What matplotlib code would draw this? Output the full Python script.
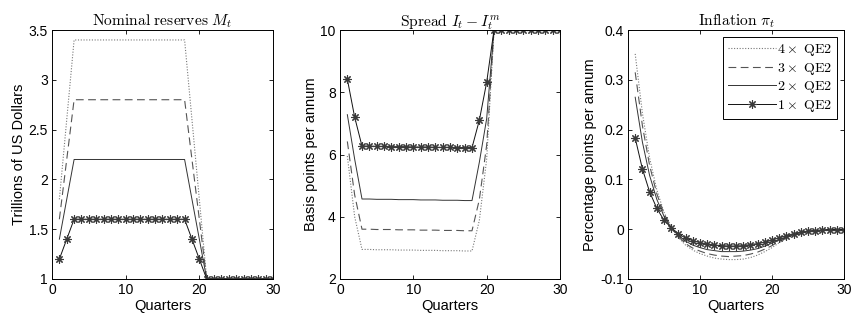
import matplotlib
matplotlib.use("Agg")
import matplotlib.pyplot as plt
from matplotlib.ticker import FuncFormatter

plt.rcParams['font.family'] = ['Liberation Sans', 'DejaVu Sans']
plt.rcParams['mathtext.fontset'] = 'cm'
plt.rcParams['axes.unicode_minus'] = False

quarters = list(range(1, 31))

# Nominal reserves (trillions of US dollars)
res_1x = [1.2, 1.4] + [1.6] * 16 + [1.4, 1.2] + [1.0] * 10
res_2x = [1.4, 1.8] + [2.2] * 16 + [1.8, 1.4] + [1.0] * 10
res_3x = [1.6, 2.2] + [2.8] * 16 + [2.2, 1.6] + [1.0] * 10
res_4x = [1.8, 2.6] + [3.4] * 16 + [2.6, 1.8] + [1.0] * 10

# Spread (basis points per annum)
spr_1x = [8.42, 7.20, 6.27, 6.27, 6.26, 6.26, 6.25, 6.25, 6.25, 6.24, 6.24, 6.24, 6.23, 6.23, 6.23, 6.22, 6.22, 6.22,
          7.10, 8.32] + [10.0] * 10
spr_2x = [7.28, 5.85, 4.57, 4.57, 4.56, 4.56, 4.56, 4.55, 4.55, 4.55, 4.54, 4.54, 4.54, 4.53, 4.53, 4.53, 4.52, 4.52,
          5.75, 7.15] + [10.0] * 10
spr_3x = [6.42, 4.70, 3.60, 3.60, 3.59, 3.59, 3.59, 3.58, 3.58, 3.58, 3.57, 3.57, 3.57, 3.56, 3.56, 3.56, 3.55, 3.55,
          4.55, 6.30] + [10.0] * 10
spr_4x = [5.95, 4.00, 2.95, 2.95, 2.94, 2.94, 2.94, 2.93, 2.93, 2.93, 2.92, 2.92, 2.92, 2.91, 2.91, 2.91, 2.90, 2.90,
          3.88, 5.85] + [10.0] * 10

# Inflation (percentage points per annum)
inf_1x = [0.183, 0.121, 0.075, 0.042, 0.018, 0.003, -0.009, -0.018, -0.023, -0.027, -0.030, -0.032, -0.033, -0.034,
          -0.034, -0.033, -0.031, -0.029, -0.026, -0.022, -0.017, -0.013, -0.009, -0.006, -0.004, -0.003, -0.002,
          -0.001, -0.001, -0.001]
inf_2x = [0.265, 0.175, 0.108, 0.060, 0.026, 0.003, -0.013, -0.024, -0.032, -0.037, -0.041, -0.043, -0.045, -0.045,
          -0.045, -0.044, -0.042, -0.039, -0.034, -0.028, -0.021, -0.015, -0.010, -0.007, -0.004, -0.003, -0.002,
          -0.001, -0.001, -0.001]
inf_3x = [0.315, 0.208, 0.128, 0.071, 0.031, 0.004, -0.015, -0.029, -0.038, -0.044, -0.049, -0.052, -0.054, -0.055,
          -0.054, -0.053, -0.050, -0.046, -0.040, -0.033, -0.024, -0.017, -0.011, -0.007, -0.004, -0.003, -0.002,
          -0.001, -0.001, -0.001]
inf_4x = [0.352, 0.233, 0.143, 0.079, 0.034, 0.005, -0.017, -0.032, -0.042, -0.049, -0.054, -0.058, -0.060, -0.061,
          -0.061, -0.060, -0.057, -0.052, -0.045, -0.037, -0.027, -0.019, -0.012, -0.008, -0.005, -0.003, -0.002,
          -0.001, -0.001, -0.001]

labels = [r"$4\times\ \mathrm{QE2}$", r"$3\times\ \mathrm{QE2}$", r"$2\times\ \mathrm{QE2}$", r"$1\times\ \mathrm{QE2}$"]

titles = [r"$\mathrm{Nominal\ reserves}\ M_t$", r"$\mathrm{Spread}\ I_t - I_t^m$", r"$\mathrm{Inflation}\ \pi_t$"]
ylabels = ["Trillions of US Dollars", "Basis points per annum", "Percentage points per annum"]
ylims = [(1, 3.5), (2, 10), (-0.1, 0.4)]
yticks = [[1, 1.5, 2, 2.5, 3, 3.5], [2, 4, 6, 8, 10], [-0.1, 0, 0.1, 0.2, 0.3, 0.4]]
data = [(res_4x, res_3x, res_2x, res_1x), (spr_4x, spr_3x, spr_2x, spr_1x), (inf_4x, inf_3x, inf_2x, inf_1x)]

fig = plt.figure(figsize=(8.53, 3.2), dpi=100)
boxes = [(52, 221), (340, 220), (628, 216)]
for i in range(3):
    l, w = boxes[i]
    ax = fig.add_axes([l / 853, 1 - 279 / 320, w / 853, 249 / 320])
    s4, s3, s2, s1 = data[i]
    ax.plot(quarters, s4, linestyle=(0, (1, 1.5)), color='#777777', lw=0.8, label=labels[0])
    ax.plot(quarters, s3, linestyle=(0, (7, 4)), color='#555555', lw=0.8, label=labels[1])
    ax.plot(quarters, s2, linestyle='-', color='#333333', lw=0.7, label=labels[2])
    ax.plot(quarters, s1, linestyle='-', color='#111111', lw=0.7, marker=(8, 2, 0), ms=6,
            mec='#3a3a3a', mew=0.8, label=labels[3])
    ax.set_xlim(0, 30)
    ax.set_ylim(*ylims[i])
    ax.set_xticks([0, 10, 20, 30])
    ax.set_yticks(yticks[i])
    ax.yaxis.set_major_formatter(FuncFormatter(lambda v, p: ('%g' % round(v, 6))))
    ax.tick_params(direction='in', top=True, right=True, length=3, width=0.6, labelsize=10, pad=3)
    for sp in ax.spines.values():
        sp.set_linewidth(0.7)
    ax.set_title(titles[i], fontsize=11.2, pad=3)
    ax.set_xlabel("Quarters", fontsize=10.5, labelpad=1)
    ax.set_ylabel(ylabels[i], fontsize=10.5, labelpad=2)
    if i == 2:
        leg = ax.legend(loc='upper right', fontsize=10, handlelength=3.4, handletextpad=0.1,
                        borderpad=0.35, labelspacing=0.2, fancybox=False, framealpha=1,
                        edgecolor='black', borderaxespad=0.5)
        leg.get_frame().set_linewidth(0.7)

fig.savefig("out.png", dpi=100)
